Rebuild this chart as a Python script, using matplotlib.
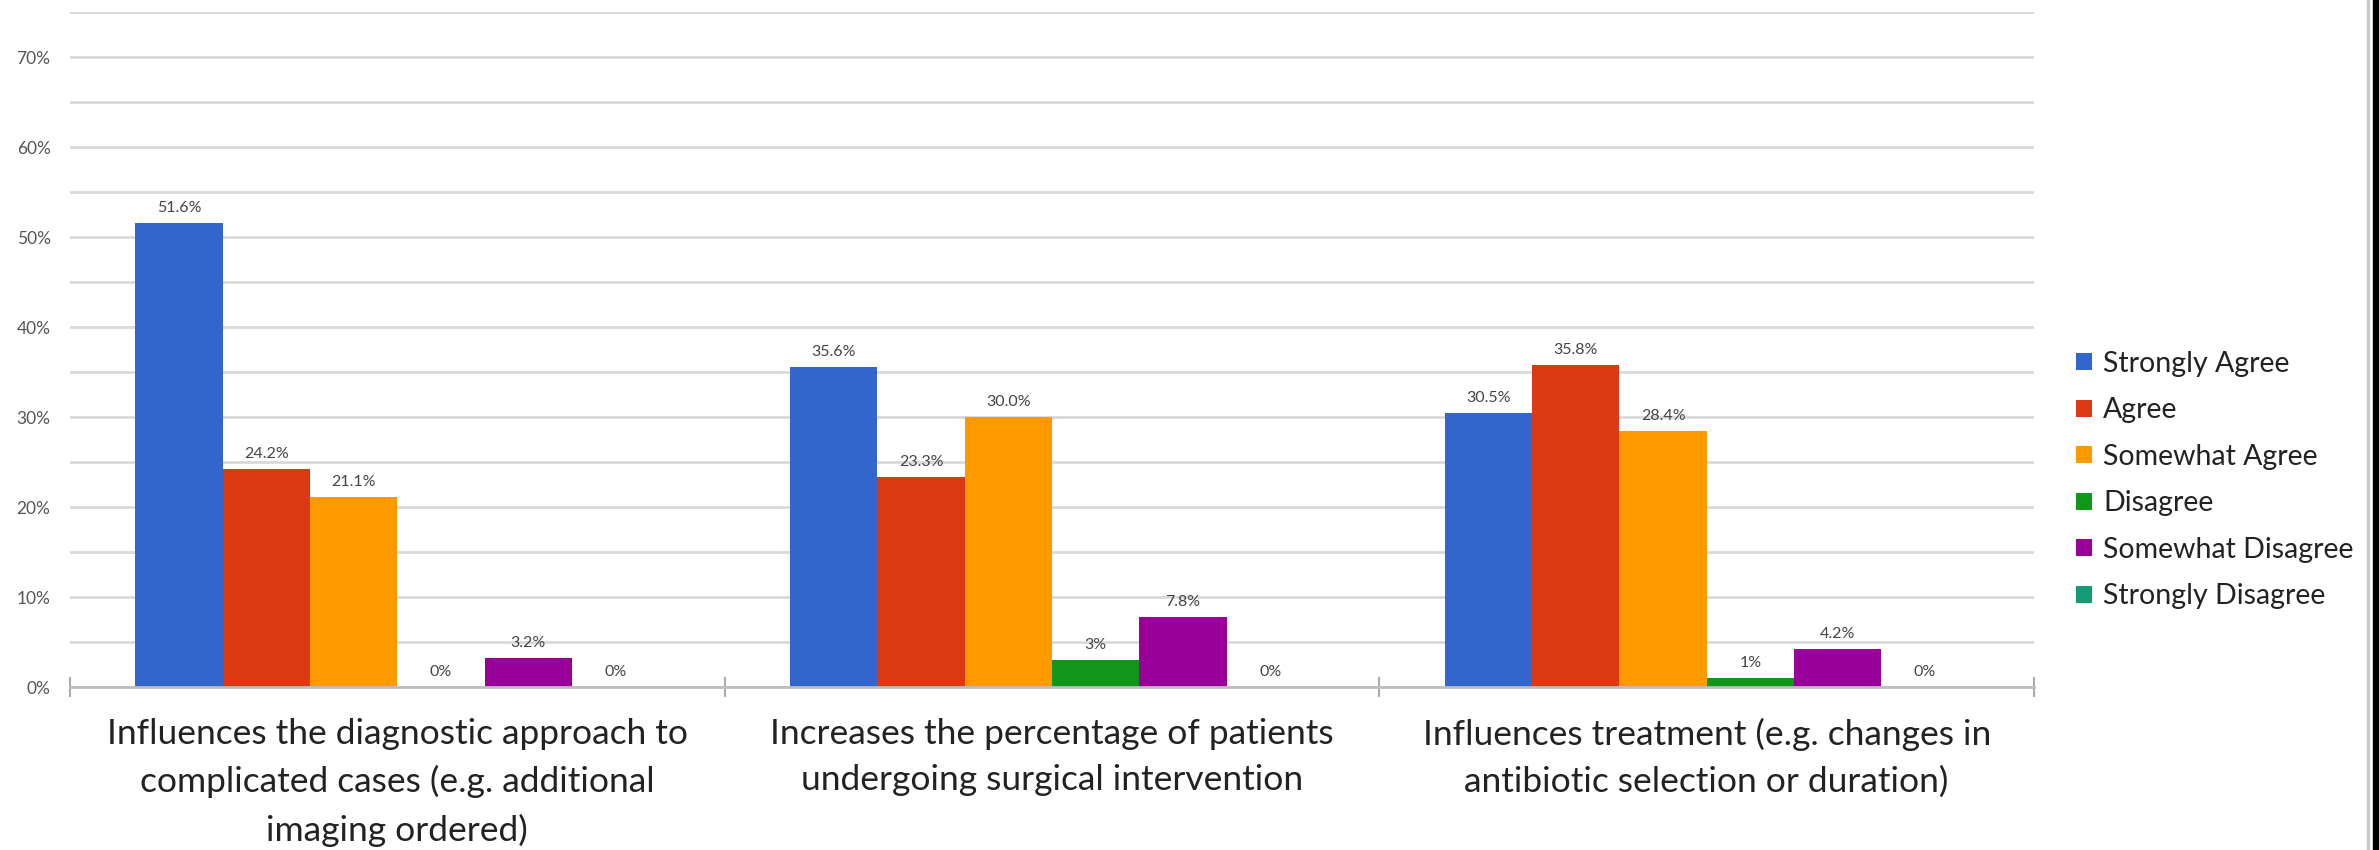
import matplotlib.pyplot as plt
from matplotlib.patches import Rectangle
import numpy as np

plt.rcParams["font.family"] = ["Lato", "DejaVu Sans"]

categories = [
    "Influences the diagnostic approach to\ncomplicated cases (e.g. additional\nimaging ordered)",
    "Increases the percentage of patients\nundergoing surgical intervention",
    "Influences treatment (e.g. changes in\nantibiotic selection or duration)",
]
responses = ["Strongly Agree", "Agree", "Somewhat Agree", "Disagree",
             "Somewhat Disagree", "Strongly Disagree"]
strongly_agree = [51.6, 35.6, 30.5]
agree = [24.2, 23.3, 35.8]
somewhat_agree = [21.1, 30.0, 28.4]
disagree = [0, 3, 1]
somewhat_disagree = [3.2, 7.8, 4.2]
strongly_disagree = [0, 0, 0]
value_labels = [
    ["51.6%", "35.6%", "30.5%"],
    ["24.2%", "23.3%", "35.8%"],
    ["21.1%", "30.0%", "28.4%"],
    ["0%", "3%", "1%"],
    ["3.2%", "7.8%", "4.2%"],
    ["0%", "0%", "0%"],
]

series = [strongly_agree, agree, somewhat_agree, disagree,
          somewhat_disagree, strongly_disagree]
colors = ["#3366CC", "#DC3912", "#FF9900", "#109618", "#990099", "#129B74"]

fig = plt.figure(figsize=(23.79, 8.5), dpi=100)
ax = fig.add_axes([70 / 2379, 1 - 687 / 850, (2034 - 70) / 2379, (687 - 12) / 850])

x = np.arange(len(categories))
w = 0.8 / len(series)
for i, (vals, c, name) in enumerate(zip(series, colors, responses)):
    bars = ax.bar(x + (i - 2.5) * w, vals, width=w, color=c, label=name,
                  zorder=3, linewidth=0)
    for b, txt in zip(bars, value_labels[i]):
        ax.annotate(txt, (b.get_x() + b.get_width() / 2, b.get_height()),
                    xytext=(0, 8), textcoords="offset pixels",
                    ha="center", va="bottom", fontsize=11.5, color="#444444")

ax.set_xlim(-0.5, 2.5)
ax.set_ylim(0, 75)
ax.set_yticks(np.arange(0, 71, 10))
ax.set_yticklabels([f"{v}%" for v in range(0, 71, 10)])
ax.set_yticks(np.arange(0, 76, 5), minor=True)
ax.grid(axis="y", which="both", color="#d9d9d9", linewidth=2.0, zorder=0)
ax.tick_params(axis="y", which="both", length=0, pad=14, labelsize=12.5,
               labelcolor="#555555")

ax.set_xticks(x)
ax.set_xticklabels(categories, fontsize=25.5, color="#222222", linespacing=1.57)
ax.set_xticks([-0.5, 0.5, 1.5, 2.5], minor=True)
ax.tick_params(axis="x", which="major", length=0, pad=22)
ax.tick_params(axis="x", which="minor", length=14, direction="inout",
               color="#aaaaaa", width=1.5)

for s in ["top", "right", "left"]:
    ax.spines[s].set_visible(False)
ax.spines["bottom"].set_color("#bdbdbd")
ax.spines["bottom"].set_linewidth(2.0)
ax.spines["bottom"].set_zorder(4)

fig.legend(loc="center left", bbox_to_anchor=(2076 / 2379, 1 - 480 / 850),
           frameon=False, fontsize=20.5, handlelength=0.55, handleheight=0.55,
           handletextpad=0.4, labelspacing=0.72, borderpad=0, borderaxespad=0,
           labelcolor="#222222")

# panel edge on the right
fig.patches.append(Rectangle((2367 / 2379, 0), 2 / 2379, 1, transform=fig.transFigure,
                             color="#c8c8c8", zorder=5))
fig.patches.append(Rectangle((2373 / 2379, 0), 6 / 2379, 1, transform=fig.transFigure,
                             color="black", zorder=5))

fig.savefig("out.png", dpi=100)
